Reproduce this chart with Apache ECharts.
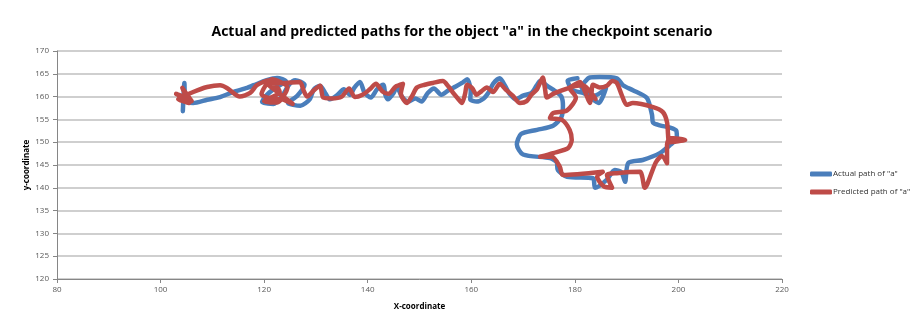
<!DOCTYPE html>
<html>
<head>
<meta charset="utf-8">
<script src="https://cdn.jsdelivr.net/npm/echarts@6/dist/echarts.min.js"></script>
<style>
  html, body { margin: 0; padding: 0; background: #ffffff; }
  #chart { width: 924px; height: 323px; }
</style>
</head>
<body>
<div id="chart"></div>
<script>
// Axis ranges and tick spacing
const xTicks = { min: 80, max: 220, step: 20 };
const yTicks = { min: 120, max: 170, step: 5 };

// Series names
const seriesNames = ['Actual path of "a"', 'Predicted path of "a"'];

// Actual path of object "a" as [x, y] points
const actualPath = [
  [104.3,156.8],[104.6,163.0],[104.8,159.0],[106.3,158.6],[109.0,159.3],[111.5,159.9],
  [114.0,161.0],[116.7,161.9],[118.0,162.5],[120.5,163.6],[122.5,164.1],[124.2,163.4],
  [122.0,161.8],[120.2,160.0],[119.6,158.8],[121.8,158.4],[123.5,160.2],[124.8,162.6],
  [126.0,163.6],[127.8,162.6],[126.4,160.2],[124.6,158.6],[127.0,158.0],[128.8,159.4],
  [129.6,161.6],[130.8,162.4],[131.9,160.6],[132.7,159.4],[134.0,160.2],[135.4,161.6],
  [136.6,160.4],[137.4,161.9],[138.5,163.2],[139.4,160.8],[140.6,159.8],[141.8,161.6],
  [143.0,162.6],[143.4,160.4],[143.9,159.4],[145.0,160.8],[145.6,162.2],[146.6,160.0],
  [147.8,158.9],[149.2,159.6],[150.4,158.9],[151.6,160.8],[152.8,161.8],[154.2,160.4],
  [155.6,161.4],[157.0,162.2],[158.2,163.0],[159.2,163.8],[159.9,161.2],[159.8,159.4],
  [161.0,158.9],[162.4,159.6],[163.4,161.0],[164.2,162.8],[165.5,164.0],[166.6,162.2],
  [167.4,160.6],[168.6,159.4],[170.0,160.2],[171.6,160.8],[172.6,162.4],[173.3,163.4],
  [174.6,162.4],[176.2,161.2],[177.4,160.0],[177.7,158.0],[177.4,155.5],[175.8,153.6],
  [172.7,152.7],[169.6,151.8],[168.8,149.5],[170.0,147.3],[175.2,146.5],[176.5,145.6],
  [176.7,143.9],[178.5,142.4],[183.5,142.1],[183.9,140.0],[186.2,141.8],[187.7,143.9],
  [189.0,143.4],[189.7,141.3],[190.3,145.4],[193.1,146.1],[196.4,147.6],[198.4,149.4],
  [199.7,150.9],[199.6,152.5],[198.4,153.2],[196.4,153.7],[195.1,154.3],[194.9,156.0],
  [193.9,159.7],[191.2,161.4],[189.3,162.5],[188.1,164.0],[184.8,164.3],[182.9,164.2],
  [181.3,162.0],[183.8,160.2],[186.0,161.8],[184.6,158.6],[182.0,160.6],[179.5,161.5],
  [178.6,163.5],[180.5,164.0]
];

// Predicted path of object "a" as [x, y] points
const predictedPath = [
  [104.5,160.0],[103.0,160.6],[106.0,159.0],[104.2,161.9],[105.5,158.6],[103.4,159.4],
  [106.3,161.0],[109.0,162.1],[111.5,162.5],[112.8,161.9],[115.3,160.0],[117.3,160.8],
  [118.6,162.5],[121.0,163.6],[123.0,161.0],[120.0,159.0],[122.5,158.7],[124.5,162.0],
  [121.5,163.8],[119.5,160.5],[121.2,159.6],[123.5,159.4],[125.5,158.4],[122.0,161.5],
  [120.6,162.8],[124.2,163.0],[126.9,163.2],[127.6,161.4],[128.3,160.0],[129.6,161.4],
  [130.8,162.4],[131.4,159.8],[133.0,159.6],[135.0,160.0],[136.4,161.8],[137.5,159.9],
  [139.0,160.4],[140.4,161.6],[141.6,162.8],[142.8,161.2],[144.0,160.6],[145.4,162.2],
  [146.8,162.8],[146.4,160.6],[147.6,158.6],[148.6,160.2],[149.5,162.0],[151.0,162.6],
  [152.6,163.0],[154.5,163.4],[155.6,162.2],[156.5,160.8],[157.4,159.6],[158.2,158.6],
  [158.8,160.6],[159.2,162.6],[160.2,161.8],[161.0,160.4],[162.0,161.2],[163.0,162.0],
  [164.2,161.0],[165.5,162.8],[166.6,161.6],[168.0,160.2],[169.4,158.6],[170.7,159.0],
  [171.6,160.4],[172.7,161.6],[173.8,164.2],[174.2,162.0],[174.6,159.8],[175.8,160.6],
  [177.1,161.2],[179.0,162.0],[181.0,163.2],[182.0,161.0],[182.9,158.6],[183.2,160.6],
  [183.5,162.6],[184.8,162.0],[186.2,162.4],[187.2,163.4],[188.1,163.0],[189.0,160.5],
  [190.0,158.2],[191.2,158.6],[195.1,157.7],[197.0,156.6],[197.8,154.4],[198.0,151.6],
  [198.2,150.0],[201.3,150.5],[198.4,150.9],[197.8,149.5],[197.8,145.4],[196.8,147.0],
  [195.6,145.5],[193.5,140.0],[193.0,142.5],[192.6,143.5],[188.1,143.2],[186.2,142.8],
  [187.2,140.0],[185.6,140.3],[184.3,142.4],[185.4,143.5],[177.7,142.8],[177.1,144.6],
  [175.6,146.8],[173.3,146.8],[175.8,147.6],[178.7,148.7],[179.4,150.5],[179.0,152.7],
  [177.5,154.9],[175.2,155.3],[175.8,156.4],[178.5,157.0],[180.2,159.8],[179.0,161.8],
  [181.5,162.5],[184.0,159.5]
];

const chart = echarts.init(document.getElementById('chart'), null, { renderer: 'canvas' });

const fontFamily = "'Liberation Sans Narrow', 'Open Sans', sans-serif";
const axisText = { color: '#595959', fontSize: 8, fontFamily: fontFamily };

chart.setOption({
  animation: false,
  backgroundColor: '#ffffff',
  title: {
    text: 'Actual and predicted paths for the object "a" in the checkpoint scenario',
    left: 'center',
    top: 20,
    textStyle: { fontSize: 14, fontWeight: 'bold', color: '#000000', fontFamily: fontFamily }
  },
  legend: {
    orient: 'vertical',
    left: 805,
    top: 165,
    itemWidth: 22,
    itemHeight: 5,
    itemGap: 10,
    icon: 'roundRect',
    textStyle: { fontSize: 8, color: '#333333', fontFamily: fontFamily, padding: [0, 0, 0, -4] },
    data: seriesNames
  },
  grid: { left: 57, right: 142, top: 51, bottom: 44, containLabel: false },
  xAxis: {
    type: 'value',
    min: xTicks.min, max: xTicks.max, interval: xTicks.step,
    name: 'X-coordinate',
    nameLocation: 'middle',
    nameGap: 24,
    nameMoveOverlap: false,
    nameTextStyle: { fontSize: 8, fontWeight: 'bold', color: '#000000', fontFamily: fontFamily },
    axisLine: { show: true, lineStyle: { color: '#868686', width: 1 } },
    axisTick: { show: true, length: 4, inside: false, lineStyle: { color: '#868686' } },
    axisLabel: Object.assign({ margin: 7 }, axisText),
    splitLine: { show: false }
  },
  yAxis: {
    type: 'value',
    min: yTicks.min, max: yTicks.max, interval: yTicks.step,
    name: 'y-coordinate',
    nameLocation: 'middle',
    nameGap: 26,
    nameMoveOverlap: false,
    nameRotate: 90,
    nameTextStyle: { fontSize: 8, fontWeight: 'bold', color: '#000000', fontFamily: fontFamily },
    axisLine: { show: true, lineStyle: { color: '#868686', width: 1 } },
    axisTick: { show: true, length: 4, inside: false, lineStyle: { color: '#868686' } },
    axisLabel: Object.assign({ margin: 8 }, axisText),
    splitLine: { show: true, lineStyle: { color: '#bfbfbf', width: 1.5 } }
  },
  series: [
    {
      name: seriesNames[0],
      type: 'line',
      data: actualPath,
      showSymbol: false,
      symbol: 'none',
      smooth: 0.25,
      lineStyle: { color: '#4a7ebb', width: 4.5, cap: 'round', join: 'round' },
      itemStyle: { color: '#4a7ebb' },
      z: 2
    },
    {
      name: seriesNames[1],
      type: 'line',
      data: predictedPath,
      showSymbol: false,
      symbol: 'none',
      smooth: 0.25,
      lineStyle: { color: '#be4b48', width: 4.5, cap: 'round', join: 'round' },
      itemStyle: { color: '#be4b48' },
      z: 3
    }
  ]
});
</script>
</body>
</html>
